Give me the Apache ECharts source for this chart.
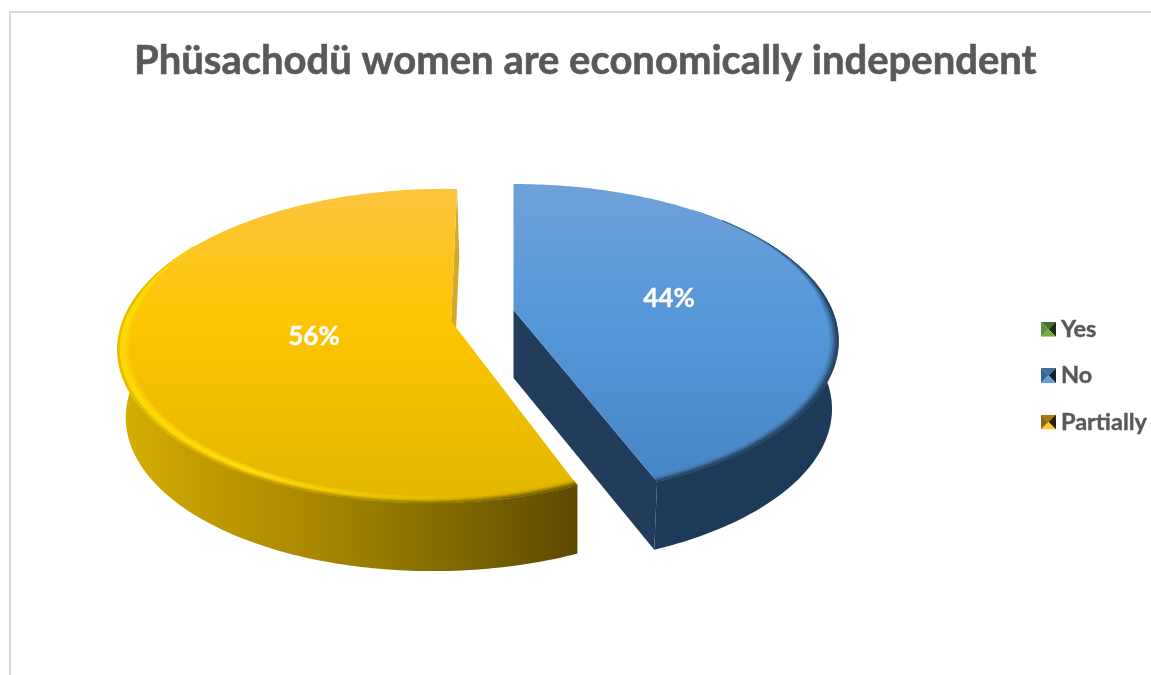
<!DOCTYPE html>
<html>
<head>
<meta charset="utf-8">
<style>html,body{margin:0;padding:0;background:#fff}#chart{width:1151px;height:675px}</style>
<script src="https://cdn.jsdelivr.net/npm/echarts@6/dist/echarts.min.js"></script>
</head>
<body>
<div id="chart"></div>
<script>
const titleText = 'Phüsachodü women are economically independent';
const categories = ['Yes', 'No', 'Partially'];
const percentages = [0, 44, 56];

// Bevelled legend markers: top, left, right, bottom facets of each square.
const markerFacets = {
  Yes: ['#47722e', '#5c9140', '#1c2e11', '#70ad47'],
  No: ['#3f6f9e', '#37648f', '#0d2133', '#5f9fdb'],
  Partially: ['#a07c08', '#8a6c0e', '#2b2200', '#ffc92e']
};

function markerIcon(f) {
  const svg = '<svg xmlns="http://www.w3.org/2000/svg" width="15" height="15" viewBox="0 0 15 15">' +
    '<path d="M0 0H15L7.5 7.5Z" fill="' + f[0] + '"/>' +
    '<path d="M0 0V15L7.5 7.5Z" fill="' + f[1] + '"/>' +
    '<path d="M15 0V15L7.5 7.5Z" fill="' + f[2] + '"/>' +
    '<path d="M0 15H15L7.5 7.5Z" fill="' + f[3] + '"/></svg>';
  return 'image://data:image/svg+xml;charset=utf-8,' + encodeURIComponent(svg);
}

// Projected disc for each exploded slice. k and m are the perspective terms,
// shear leans the far radius, depth is the height of the wall.
const discs = {
  No: {
    cx: 513.5, cy: 341, a: 325, b: 157, k: -0.197, m: 0, shear: 0, depth: 68, wallScale: 0.98, anchor: 513.5,
    wallFrom: 40, labelAt: [669, 299],
    face: [[0, '#6fa1d9'], [0.45, '#5597d9'], [1, '#4586c6']],
    wall: [[0, '#1d3a58'], [1, '#1d3a58']],
    cut: '#213d5b',
    rimFrom: 48, rimFade: 40,
    rimStops: [1, 0.994, 0.988, 0.982, 0.976],
    rim: [
      [[0, '#24435f'], [1, '#21405f']],
      [[0, '#2e5479'], [1, '#2a4e73']],
      [[0, '#3c6d9d'], [1, '#386792']],
      [[0, '#477fb6'], [1, '#4a80b8']]
    ]
  },
  Partially: {
    cx: 450, cy: 346, a: 319, b: 157, k: -0.159, m: 0.04, shear: 0.045, depth: 68, wallScale: 0.982, anchor: 578,
    wallFrom: 150, wallTo: 295, labelAt: [314, 337],
    face: [[0, '#fcc43f'], [0.42, '#fdc500'], [1, '#e2b600']],
    wall: [[0, '#d8b000'], [0.2, '#bf9a00'], [0.45, '#a68600'], [0.72, '#836a00'], [1, '#5c4a00']],
    cut: '#d3a92a',
    rimFrom: 150, rimTo: 300, rimFade: 22,
    rimStops: [1, 0.992, 0.984, 0.976, 0.968],
    rim: [
      [[0, '#e6c000'], [0.3, '#c9a200'], [0.7, '#927500'], [1, '#685300']],
      [[0, '#ffd900'], [0.3, '#f2ca00'], [0.7, '#b59300'], [1, '#806700']],
      [[0, '#ffd800'], [0.3, '#ffe21a'], [0.7, '#dcb400'], [1, '#ac8c00']],
      [[0, '#fbcd00'], [0.3, '#f6d008'], [0.7, '#eaba00'], [1, '#d8ad00']]
    ]
  }
};

const total = percentages.reduce((s, v) => s + v, 0);
const sliceAngles = {};
let running = 0;
categories.forEach((name, i) => {
  const start = running / total * 360;
  running += percentages[i];
  sliceAngles[name] = [start, running / total * 360];
});

// Angle in degrees, clockwise from the far point of the disc.
function project(g, deg, r) {
  const t = deg * Math.PI / 180;
  const x = r * Math.sin(t), y = -r * Math.cos(t);
  const w = 1 + g.k * y + g.m * x;
  const Y = (g.b * y + g.k * g.b) / w;
  const X = g.a * Math.sqrt(1 - g.k * g.k) * x / w - g.shear * Y;
  return [g.cx + X, g.cy + Y];
}

function lower(g, p) {
  return [g.anchor + (p[0] - g.anchor) * g.wallScale, p[1] + g.depth];
}

function arc(g, from, to, r) {
  const pts = [];
  const n = Math.max(2, Math.ceil(Math.abs(to - from)));
  for (let i = 0; i <= n; i++) {
    pts.push(project(g, from + (to - from) * i / n, r));
  }
  return pts;
}

const grad = (x, y, x2, y2, stops) =>
  new echarts.graphic.LinearGradient(x, y, x2, y2, stops.map(s => ({ offset: s[0], color: s[1] })), true);

function renderSlice(name, params, api) {
  const value = api.value(0);
  if (!value) return { type: 'group', children: [] };
  const g = discs[name];
  const [start, end] = sliceAngles[name];
  const apex = project(g, 0, 0);
  const children = [];
  const edge = arc(g, start, end, 1);
  const xs = edge.map(p => p[0]), ys = edge.map(p => p[1]);
  const minX = Math.min.apply(null, xs), maxX = Math.max.apply(null, xs);
  const minY = Math.min.apply(null, ys), maxY = Math.max.apply(null, ys);

  // Outer wall
  const wallStart = Math.max(start, g.wallFrom);
  const wallEnd = Math.min(end, g.wallTo || end);
  const wallTop = arc(g, wallStart, wallEnd, 1);
  const wallBottom = wallTop.map(p => lower(g, p)).reverse();
  children.push({
    type: 'polygon',
    shape: { points: wallTop.concat(wallBottom) },
    style: { fill: grad(minX, 0, maxX, 0, g.wall) }
  });

  // Cut wall at the end of the slice
  const cutPoint = project(g, end, 1);
  children.push({
    type: 'polygon',
    shape: { points: [apex, cutPoint, lower(g, cutPoint), lower(g, apex)] },
    style: { fill: g.cut }
  });

  // Top face
  children.push({
    type: 'polygon',
    shape: { points: [apex].concat(edge) },
    style: { fill: grad(0, minY, 0, maxY, g.face) }
  });

  // Rounded rim as nested bands that taper towards the far side
  const rimA = name === 'No' ? end : Math.max(start, g.rimFrom);
  const rimB = name === 'No' ? g.rimFrom : g.rimTo;
  const n = Math.ceil(Math.abs(rimB - rimA));
  const ring = r => {
    const pts = [];
    for (let i = 0; i <= n; i++) {
      const deg = rimA + (rimB - rimA) * i / n;
      const fade = Math.min(1, (n - i) / g.rimFade);
      pts.push(project(g, deg, 1 - (1 - r) * fade));
    }
    return pts;
  };
  g.rim.forEach((stops, b) => {
    const fill = grad(minX, 0, maxX, 0, stops);
    children.push({
      type: 'polygon',
      shape: { points: ring(g.rimStops[b]).concat(ring(g.rimStops[b + 1]).reverse()) },
      style: { fill, stroke: fill, lineWidth: 0.6 }
    });
  });

  // Value label
  children.push({
    type: 'text',
    style: {
      x: g.labelAt[0], y: g.labelAt[1], text: value + '%',
      fill: '#ffffff', stroke: '#ffffff', lineWidth: 0.4,
      font: 'bold 26px Lato', align: 'center', verticalAlign: 'middle'
    }
  });
  return { type: 'group', children };
}

const chart = echarts.init(document.getElementById('chart'), null, { renderer: 'canvas' });
chart.setOption({
  animation: false,
  backgroundColor: '#ffffff',
  title: {
    text: titleText, left: 134, top: 41, padding: 0,
    textStyle: {
      color: '#595959', fontFamily: 'Lato', fontWeight: 'bold', fontSize: 40,
      textBorderColor: '#595959', textBorderWidth: 0.6
    }
  },
  legend: {
    orient: 'vertical', left: 1041, top: 317, itemWidth: 15, itemHeight: 15, itemGap: 22, padding: 0,
    selectedMode: false,
    textStyle: {
      color: '#595959', fontFamily: 'Lato', fontWeight: 'bold', fontSize: 23.5,
      textBorderColor: '#595959', textBorderWidth: 0.4
    },
    data: categories.map(name => ({ name, icon: markerIcon(markerFacets[name]) }))
  },
  graphic: [
    { type: 'line', shape: { x1: 10, y1: 12, x2: 1151, y2: 12 }, style: { stroke: '#d9d9d9', lineWidth: 2 } },
    { type: 'line', shape: { x1: 10, y1: 11, x2: 10, y2: 675 }, style: { stroke: '#d9d9d9', lineWidth: 2 } }
  ],
  series: categories.map((name, i) => ({
    type: 'custom',
    name,
    coordinateSystem: 'none',
    silent: true,
    itemStyle: { color: markerFacets[name][3] },
    data: [[percentages[i]]],
    renderItem: (params, api) => renderSlice(name, params, api)
  }))
});
</script>
</body>
</html>
